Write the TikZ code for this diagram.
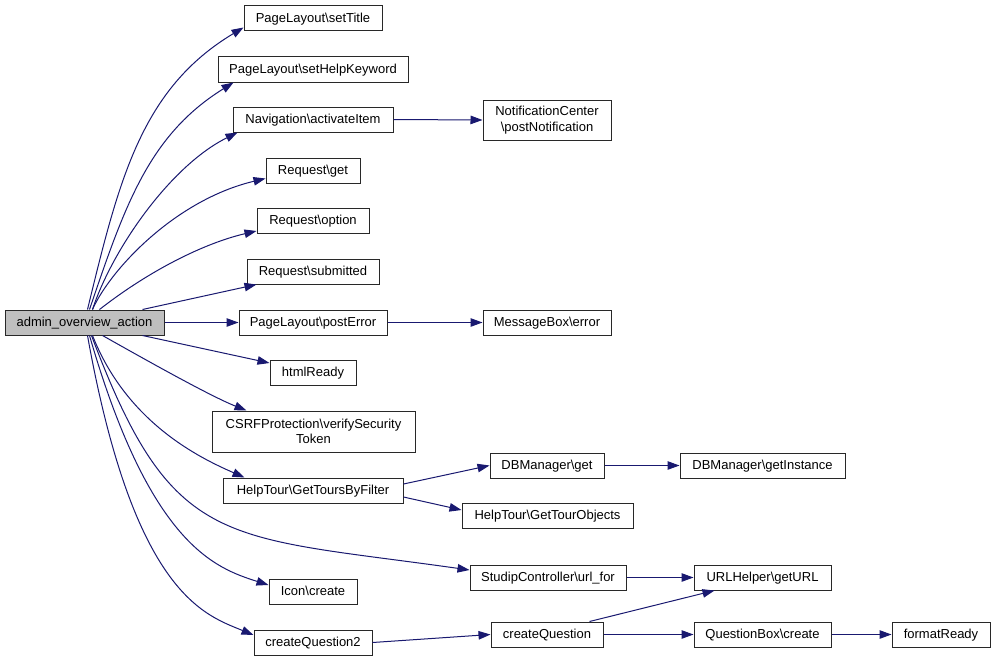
\documentclass[tikz,border=0pt]{standalone}
\usepackage{fontspec}
\setmainfont{Liberation Sans}
\usetikzlibrary{arrows.meta,calc}
\definecolor{edgec}{RGB}{25,25,112}
\definecolor{boxc}{RGB}{40,40,40}
\definecolor{rootfill}{RGB}{191,191,191}
\begin{document}
\begin{tikzpicture}[x=1pt,y=-1pt,
  fn/.style={draw=boxc, line width=1pt, fill=white, inner sep=0pt, minimum height=25,
    font=\fontsize{13}{15.5}\selectfont, text height=10.4pt, text depth=2.8pt},
  fntwo/.style={fn, align=center, text height=, text depth=},
  edge/.style={draw=edgec, line width=1pt, -{Triangle[length=12pt,width=8.5pt]}}]
\useasboundingbox (0,0) rectangle (995,661);
\fill[white] (0,0) rectangle (995,661);
% first level
\node[fn, fill=rootfill, minimum width=159] (admin) at (84.5,322.5) {admin\_overview\_action};
\node[fn, minimum width=138] (setTitle) at (313,18.5) {PageLayout\textbackslash setTitle};
\node[fn, minimum width=190] (setHelp) at (313,69.5) {PageLayout\textbackslash setHelpKeyword};
\node[fn, minimum width=160] (activate) at (313,119.5) {Navigation\textbackslash activateItem};
\node[fn, minimum width=94] (reqGet) at (313,170.5) {Request\textbackslash get};
\node[fn, minimum width=112] (reqOption) at (313,221) {Request\textbackslash option};
\node[fn, minimum width=132] (reqSub) at (313,271.5) {Request\textbackslash submitted};
\node[fn, minimum width=148] (postError) at (313,322.5) {PageLayout\textbackslash postError};
\node[fn, minimum width=86] (htmlReady) at (313,373) {htmlReady};
\node[fntwo, minimum width=203, minimum height=41] (csrf) at (313.5,431.5) {CSRFProtection\textbackslash verifySecurity\\Token};
\node[fn, minimum width=180] (tours) at (313,490.5) {HelpTour\textbackslash GetToursByFilter};
\node[fn, minimum width=88] (icon) at (313,592) {Icon\textbackslash create};
\node[fn, minimum width=118] (cq2) at (313,642.5) {createQuestion2};
% second level
\node[fntwo, minimum width=128, minimum height=40] (notif) at (547,120) {NotificationCenter\\\textbackslash postNotification};
\node[fn, minimum width=128] (msgErr) at (547,322.5) {MessageBox\textbackslash error};
\node[fn, minimum width=114] (dbGet) at (547,465.5) {DBManager\textbackslash get};
\node[fn, minimum width=171] (tourObj) at (547.5,515.5) {HelpTour\textbackslash GetTourObjects};
\node[fn, minimum width=156] (urlFor) at (548,577.5) {StudipController\textbackslash url\_for};
\node[fn, minimum width=112] (cq) at (547,634.5) {createQuestion};
% third level
\node[fn, minimum width=165] (dbInst) at (762.5,465.5) {DBManager\textbackslash getInstance};
\node[fn, minimum width=137] (getURL) at (762.5,577.5) {URLHelper\textbackslash getURL};
\node[fn, minimum width=137] (qbCreate) at (762.5,634.5) {QuestionBox\textbackslash create};
\node[fn, minimum width=98] (fmtReady) at (941,634.5) {formatReady};
% edges from root
\draw[edge] ($(admin.north west)+(83,0)$) .. controls (119,180) and (141,89) .. ($(setTitle.south west)+(0,-4)$);
\draw[edge] ($(admin.north west)+(85,0)$) .. controls (125,205) and (149,135) .. ($(setHelp.south west)+(16,0)$);
\draw[edge] ($(admin.north west)+(88,0)$) .. controls (112,250) and (170,166) .. ($(activate.south west)+(5,0)$);
\draw[edge] ($(admin.north west)+(88,0)$) .. controls (110,270) and (175,200) .. ($(reqGet.west)+(0,8)$);
\draw[edge] ($(admin.north west)+(95,0)$) .. controls (150,270) and (205,243) .. ($(reqOption.south west)+(0,-3)$);
\draw[edge] ($(admin.north west)+(138,0)$) -- ($(reqSub.south west)+(10,0)$);
\draw[edge] (admin.east) -- (postError.west);
\draw[edge] ($(admin.south west)+(138,0)$) -- ($(htmlReady.west)+(0,-10)$);
\draw[edge] ($(admin.south west)+(98,0)$) .. controls (146,360) and (210,396) .. ($(csrf.north west)+(35,0)$);
\draw[edge] ($(admin.south west)+(88,0)$) .. controls (127,423) and (200,458) .. ($(tours.north west)+(22,0)$);
\draw[edge] ($(admin.south west)+(87,0)$) .. controls (172.5,551) and (222.5,535) .. ($(urlFor.west)+(0,-7.5)$);
\draw[edge] ($(admin.south west)+(85,0)$) .. controls (150,545) and (215,568) .. ($(icon.west)+(0,-7)$);
\draw[edge] ($(admin.south west)+(83,0)$) .. controls (134,595) and (205,615) .. ($(cq2.west)+(0,-7.5)$);
% further edges
\draw[edge] (activate.east) -- (notif.west);
\draw[edge] (postError.east) -- (msgErr.west);
\draw[edge] ($(tours.east)+(0,-6.5)$) -- (dbGet.west);
\draw[edge] ($(tours.east)+(0,6.5)$) -- ($(tourObj.west)+(0,-5.5)$);
\draw[edge] (dbGet.east) -- (dbInst.west);
\draw[edge] (urlFor.east) -- (getURL.west);
\draw[edge] (cq2.east) -- (cq.west);
\draw[edge] ($(cq.north west)+(99,0)$) -- ($(getURL.south west)+(21,0)$);
\draw[edge] (cq.east) -- (qbCreate.west);
\draw[edge] (qbCreate.east) -- (fmtReady.west);
\end{tikzpicture}
\end{document}
